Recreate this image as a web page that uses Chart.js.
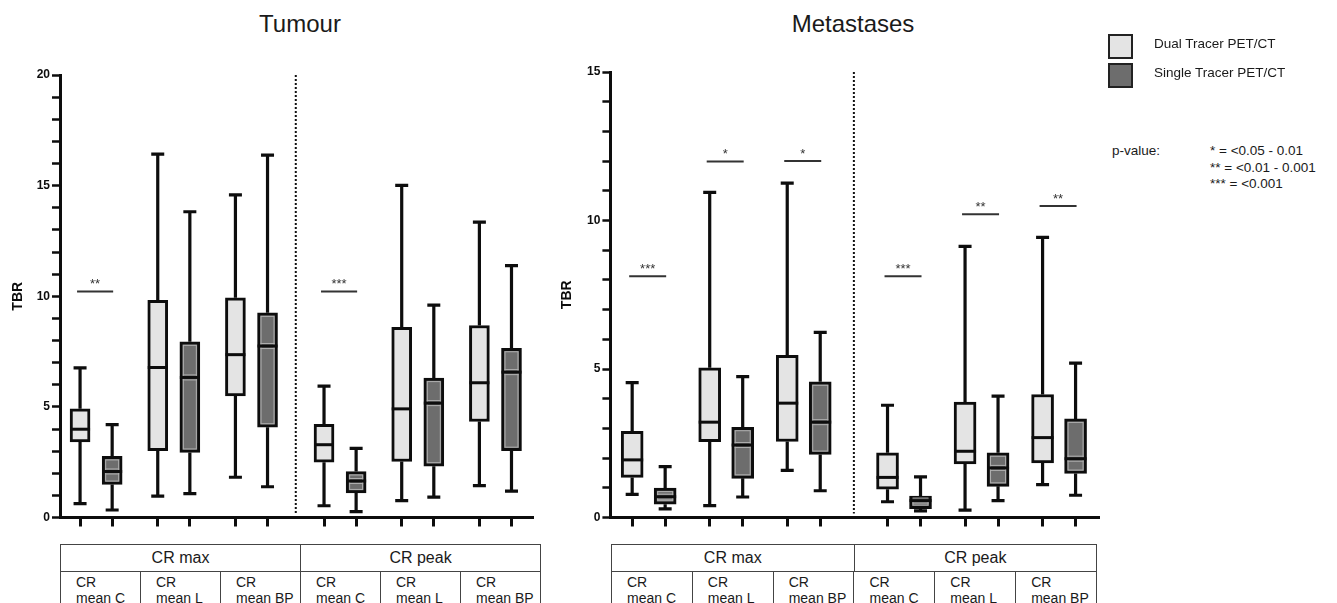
<!DOCTYPE html>
<html>
<head>
<meta charset="utf-8">
<script src="https://cdn.jsdelivr.net/npm/chart.js@4/dist/chart.umd.min.js"></script>
<style>
  html,body{margin:0;padding:0;background:#fff;overflow:hidden;}
  body{width:1337px;height:603px;position:relative;font-family:"Liberation Sans",Arial,sans-serif;color:#1a1a1a;}
  canvas{position:absolute;top:0;}
  .title{position:absolute;top:10px;font-size:24px;transform:translateX(-50%);white-space:nowrap;}
  .tbl{position:absolute;top:544px;height:70px;border:1.5px solid #444;box-sizing:border-box;}
  .row{display:flex;}
  .row.head{height:26px;border-bottom:1.5px solid #444;}
  .row.head div{flex:1;text-align:center;line-height:26px;font-size:16px;}
  .row.head div+div{border-left:1.5px solid #444;}
  .row.sub div{flex:1;font-size:14px;line-height:16px;padding:2px 0 0 15px;white-space:pre-line;height:44px;box-sizing:border-box;}
  .row.sub div+div{border-left:1.5px solid #444;}
  .lg{position:absolute;width:25px;height:25px;border:2px solid #222;box-sizing:border-box;}
  .lt{position:absolute;font-size:13.5px;white-space:nowrap;}
  .pv{position:absolute;font-size:13.5px;white-space:nowrap;line-height:16.5px;}
</style>
</head>
<body>
<div class="title" style="left:300px">Tumour</div>
<div class="title" style="left:853px">Metastases</div>
<canvas id="tumour" width="545" height="540" style="left:0"></canvas>
<canvas id="meta" width="560" height="540" style="left:550px"></canvas>
<div class="tbl" id="tblTumour" style="left:60px;width:481px"></div>
<div class="tbl" id="tblMeta" style="left:611px;width:486px"></div>

<div class="lg" style="left:1108px;top:34px;background:#e4e4e4"></div>
<div class="lg" style="left:1108px;top:63px;background:#6d6d6d"></div>
<div class="lt" id="lg0" style="left:1154px;top:36px"></div>
<div class="lt" id="lg1" style="left:1154px;top:65px"></div>
<div class="pv" style="left:1112px;top:143px">p-value:</div>
<div class="pv" id="pvals" style="left:1210px;top:143px"></div>

<script>
/* === DATA === */
const groupLabels = ['CR max', 'CR peak'];
const categories = ['CR\nmean C', 'CR\nmean L', 'CR\nmean BP', 'CR\nmean C', 'CR\nmean L', 'CR\nmean BP'];
const seriesNames = ['Dual Tracer PET/CT', 'Single Tracer PET/CT'];
const pLegend = ['* = <0.05 - 0.01', '** = <0.01 - 0.001', '*** = <0.001'];

// each row: [min, q1, median, q3, max]
const tumourDual = [
  [0.63, 3.42, 3.99, 4.91, 6.76],
  [0.97, 3.02, 6.78, 9.81, 16.42],
  [1.82, 5.49, 7.36, 9.93, 14.58],
  [0.53, 2.50, 3.29, 4.21, 5.94],
  [0.76, 2.53, 4.91, 8.59, 15.01],
  [1.44, 4.34, 6.09, 8.68, 13.35]
];
const tumourSingle = [
  [0.34, 1.49, 2.08, 2.76, 4.20],
  [1.08, 2.94, 6.33, 7.94, 13.82],
  [1.39, 4.08, 7.75, 9.25, 16.38],
  [0.27, 1.11, 1.65, 2.08, 3.12],
  [0.92, 2.32, 5.17, 6.30, 9.60],
  [1.19, 3.02, 6.57, 7.65, 11.38]
];
const metaDual = [
  [0.78, 1.35, 1.94, 2.90, 4.54],
  [0.40, 2.55, 3.21, 5.04, 10.95],
  [1.59, 2.56, 3.85, 5.46, 11.26],
  [0.53, 0.95, 1.35, 2.18, 3.78],
  [0.25, 1.80, 2.23, 3.89, 9.13],
  [1.11, 1.84, 2.69, 4.14, 9.43]
];
const metaSingle = [
  [0.29, 0.45, 0.70, 0.99, 1.71],
  [0.69, 1.32, 2.44, 3.04, 4.74],
  [0.90, 2.12, 3.21, 4.57, 6.23],
  [0.22, 0.30, 0.57, 0.72, 1.37],
  [0.57, 1.05, 1.67, 2.18, 4.09],
  [0.75, 1.48, 1.98, 3.32, 5.20]
];
// [group, y, label]
const tumourSig = [[0, 10.22, '**'], [3, 10.22, '***']];
const metaSig = [[0, 8.12, '***'], [1, 11.99, '*'], [2, 12.0, '*'], [3, 8.12, '***'], [4, 10.21, '**'], [5, 10.49, '**']];

/* === STYLE === */
const fills = ['#e4e4e4', '#6d6d6d'];
const ink = '#0d0d0d';

/* === POSITIONS (x units) === */
function boxPos(g, s, L){ return g*L.step + (g>=3 ? L.gap : 0) + s*2; }

/* === BOX PLOT DRAWING === */
const boxPlugin = {
  id: 'box',
  beforeDatasetsDraw(chart){
    const ctx = chart.ctx, ys = chart.scales.y;
    ctx.save();
    ctx.strokeStyle = ink; ctx.lineWidth = 3.2;
    chart.data.datasets.forEach((ds, i) => {
      chart.getDatasetMeta(i).data.forEach((bar, j) => {
        const r = ds.stats[j], x = bar.x;
        ctx.beginPath();
        ctx.moveTo(x, ys.getPixelForValue(r[0])); ctx.lineTo(x, ys.getPixelForValue(r[1]));
        ctx.moveTo(x, ys.getPixelForValue(r[3])); ctx.lineTo(x, ys.getPixelForValue(r[4]));
        [r[0], r[4]].forEach(v => {
          const y = ys.getPixelForValue(v);
          ctx.moveTo(x-6.5, y); ctx.lineTo(x+6.5, y);
        });
        ctx.stroke();
      });
    });
    ctx.restore();
  },
  afterDatasetsDraw(chart, args, opts){
    const ctx = chart.ctx, ys = chart.scales.y, xs = chart.scales.x;
    ctx.save();
    chart.data.datasets.forEach((ds, i) => {
      chart.getDatasetMeta(i).data.forEach((bar, j) => {
        const r = ds.stats[j], w = bar.width;
        const top = Math.min(bar.y, bar.base), bot = Math.max(bar.y, bar.base);
        const ym = ys.getPixelForValue(r[2]);
        if(i===1){
          ctx.strokeStyle = '#b0b0b0'; ctx.lineWidth = 1;
          ctx.strokeRect(bar.x-w/2+3.5, top+3.5, w-7, bot-top-7);
          ctx.beginPath();
          ctx.moveTo(bar.x-w/2+3, ym-2.5); ctx.lineTo(bar.x+w/2-3, ym-2.5);
          ctx.moveTo(bar.x-w/2+3, ym+2.5); ctx.lineTo(bar.x+w/2-3, ym+2.5);
          ctx.stroke();
        }
        ctx.strokeStyle = ink; ctx.lineWidth = 3;
        ctx.beginPath();
        ctx.moveTo(bar.x-w/2, ym); ctx.lineTo(bar.x+w/2, ym);
        ctx.stroke();
      });
    });
    // divider between CR max and CR peak
    const L = opts.layout;
    const dx = xs.getPixelForValue((boxPos(2,1,L)+boxPos(3,0,L))/2);
    ctx.strokeStyle = '#111'; ctx.lineWidth = 2; ctx.setLineDash([2,2]);
    ctx.beginPath();
    ctx.moveTo(dx, ys.getPixelForValue(ys.max)); ctx.lineTo(dx, chart.chartArea.bottom-4);
    ctx.stroke();
    ctx.setLineDash([]);
    // significance
    ctx.strokeStyle = '#333'; ctx.fillStyle = '#333'; ctx.lineWidth = 2;
    ctx.font = '13px "Liberation Sans", Arial'; ctx.textAlign = 'center'; ctx.textBaseline = 'alphabetic';
    opts.sig.forEach(([g, v, t]) => {
      const x1 = xs.getPixelForValue(boxPos(g,0,L))-3, x2 = xs.getPixelForValue(boxPos(g,1,L))+1;
      const y = ys.getPixelForValue(v);
      ctx.beginPath(); ctx.moveTo(x1, y); ctx.lineTo(x2, y); ctx.stroke();
      ctx.fillText(t, (x1+x2)/2, y-3);
    });
    ctx.restore();
  }
};

function makeChart(id, dual, single, sig, yMax, L){
  const positions = [];
  dual.forEach((r, g) => { positions.push(boxPos(g,0,L), boxPos(g,1,L)); });
  const sets = [dual, single].map((rows, s) => ({
    label: seriesNames[s],
    data: rows.map((r, g) => ({x: boxPos(g,s,L), y: [r[1], r[3]]})),
    stats: rows,
    backgroundColor: fills[s],
    borderColor: ink,
    borderWidth: 3,
    borderSkipped: false,
    barThickness: L.bw,
    grouped: false
  }));
  return new Chart(document.getElementById(id), {
    type: 'bar',
    data: {datasets: sets},
    options: {
      responsive: false, animation: false, devicePixelRatio: 1,
      layout: {padding: {left: 0, top: L.top, right: L.right, bottom: 0}},
      plugins: {legend: {display: false}, tooltip: {enabled: false}, box: {sig: sig, layout: L}},
      scales: {
        x: {
          type: 'linear', min: L.xmin, max: L.xmax, offset: false,
          afterBuildTicks: sc => { sc.ticks = positions.map(v => ({value: v})); },
          afterFit: sc => { sc.height = 22.5; },
          ticks: {autoSkip: false, callback: () => '', padding: 0},
          grid: {drawOnChartArea: false, drawTicks: true, tickLength: 9, tickWidth: 3, tickColor: ink, offset: false},
          border: {display: true, width: 3, color: ink}
        },
        y: {
          min: 0, max: yMax,
          afterFit: sc => { sc.width = L.yw; },
          ticks: {stepSize: 1, autoSkip: false, padding: 2, color: ink,
            font: {size: 12, weight: 'bold', family: '"Liberation Sans", Arial'},
            callback: v => v % 5 === 0 ? v : ''},
          grid: {drawOnChartArea: false, drawTicks: true, tickLength: 8, tickWidth: 2.5, tickColor: ink},
          border: {display: true, width: 3, color: ink},
          title: {display: true, text: 'TBR', color: ink, padding: {top: L.tp, bottom: 0},
            font: {size: 14, weight: 'bold', family: '"Liberation Sans", Arial'}}
        }
      }
    },
    plugins: [boxPlugin]
  });
}

makeChart('tumour', tumourDual, tumourSingle, tumourSig, 20,
  {step: 4.84, gap: 0.68, xmin: -1.25, xmax: 28.22, bw: 20, top: 75, right: 12, yw: 60, tp: 9.6});
makeChart('meta', metaDual, metaSingle, metaSig, 15,
  {step: 4.70, gap: 1.38, xmin: -1.32, xmax: 28.3, bw: 22, top: 72, right: 11, yw: 60.4, tp: 8.4});

/* === TABLES & LEGEND === */
function makeTable(id){
  const el = document.getElementById(id);
  const head = document.createElement('div'); head.className = 'row head';
  groupLabels.forEach(t => { const c = document.createElement('div'); c.textContent = t; head.appendChild(c); });
  const sub = document.createElement('div'); sub.className = 'row sub';
  categories.forEach(t => { const c = document.createElement('div'); c.textContent = t; sub.appendChild(c); });
  el.appendChild(head); el.appendChild(sub);
}
makeTable('tblTumour');
makeTable('tblMeta');
document.getElementById('lg0').textContent = seriesNames[0];
document.getElementById('lg1').textContent = seriesNames[1];
document.getElementById('pvals').textContent = pLegend.join('\n');
document.getElementById('pvals').style.whiteSpace = 'pre';
</script>
</body>
</html>
